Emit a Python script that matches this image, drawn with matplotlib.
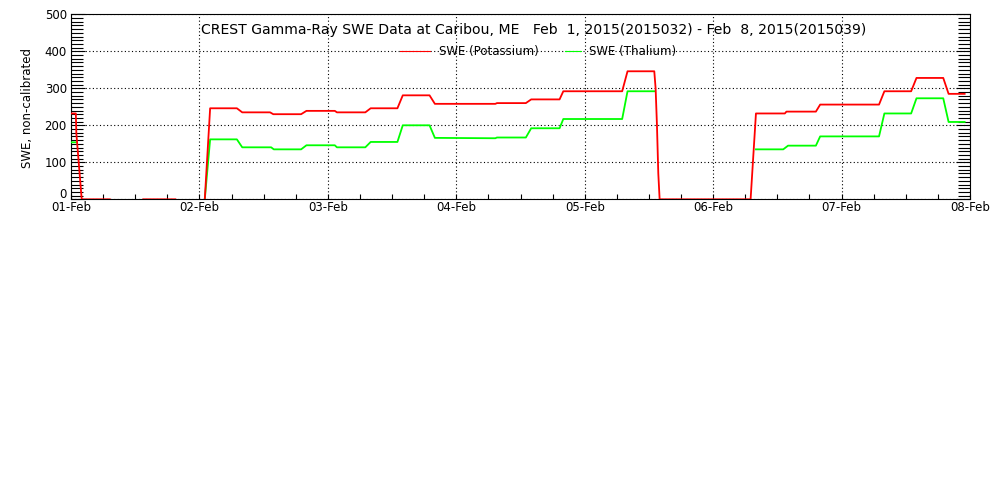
import numpy as np
import matplotlib
matplotlib.use("Agg")
import matplotlib.pyplot as plt
from matplotlib.ticker import MultipleLocator, FixedLocator, FixedFormatter

nan = np.nan

# hours since 2015-02-01 00:00
red_hours = [0, 0.9, 1.0, 2.0, 7.25, 10, 13.5, 19.5, 22, 25, 26, 31, 32, 37.2, 37.8,
             43, 44, 49.3, 49.7, 55, 56, 61, 62, 67, 68, 79.3, 79.6, 85, 86, 91.3,
             92, 103, 104, 109, 109.25, 109.5, 109.75, 110, 127, 128, 133.4, 133.7,
             139.2, 140, 151, 152, 157, 158, 163, 164, 167]
red_values = [232, 232, 178, 0, 0, nan, 0, 0, nan, 0, 246, 246, 235, 235, 230,
              230, 239, 239, 235, 235, 246, 246, 281, 281, 258, 258, 260, 260, 270, 270,
              292, 292, 346, 346, 300, 200, 70, 0, 0, 232, 232, 237,
              237, 256, 256, 292, 292, 328, 328, 285, 285]

green_hours = [0, 0.9, 1.0, 25, 26, 31, 32, 37.4, 37.9, 43, 44, 49.3, 49.7, 55, 56,
               61, 62, 67, 68, 79.3, 79.6, 85, 86, 91.3, 92, 103, 104, 109, 109.5,
               128, 133.1, 134, 139.2, 140, 151, 152, 157, 158, 163, 164, 167]
green_values = [154, 154, nan, 0, 162, 162, 140.5, 140.5, 135, 135, 146, 146, 140.5, 140.5, 155,
                155, 200, 200, 166, 165, 167, 167, 192, 192, 217, 217, 292, 292, nan,
                135, 135, 145, 145, 170, 170, 232, 232, 273, 273, 209, 209]

day_labels = ["01-Feb", "02-Feb", "03-Feb", "04-Feb", "05-Feb", "06-Feb", "07-Feb", "08-Feb"]
y_ticks = [0, 100, 200, 300, 400, 500]
y_tick_labels = ["0", "100", "200", "300", "400", "500"]
title = "CREST Gamma-Ray SWE Data at Caribou, ME   Feb  1, 2015(2015032) - Feb  8, 2015(2015039)"
ylabel = "SWE, non-calibrated"
legend_labels = ["SWE (Potassium)", "SWE (Thalium)"]

plt.rcParams['font.family'] = ['DejaVu Sans']
fig = plt.figure(figsize=(10, 5), dpi=100)
fig.patch.set_facecolor('white')
ax = fig.add_axes([0.071, 1 - 199.3 / 500, 0.899, 185 / 500])

rx = np.array(red_hours) / 24.0
gx = np.array(green_hours) / 24.0
ax.plot(gx, green_values, color=(0, 1, 0), lw=1.3, zorder=3)
ax.plot(rx, red_values, color=(1, 0, 0), lw=1.3, zorder=4)

ax.set_xlim(0, 7)
ax.set_ylim(0, 500)

ax.xaxis.set_major_locator(FixedLocator(range(8)))
ax.set_xticklabels(day_labels)
ax.xaxis.set_minor_locator(MultipleLocator(0.25))
ax.yaxis.set_major_locator(FixedLocator(y_ticks))
# the bottom label sits slightly above its tick, drawn separately below
ax.yaxis.set_major_formatter(FixedFormatter([""] + y_tick_labels[1:]))
ax.yaxis.set_minor_locator(MultipleLocator(10))

ax.tick_params(axis='x', which='both', direction='in', top=False, bottom=True,
               length=3.5, width=0.8, labelsize=8.5, pad=1.5)
ax.tick_params(axis='y', which='major', direction='in', left=True, right=True,
               length=10, width=0.8, labelsize=8.5, pad=3)
ax.tick_params(axis='y', which='minor', direction='in', left=True, right=True,
               length=8.8, width=0.8)

ax.grid(True, which='major', color='black', linestyle=(0, (1, 2.2)), lw=0.8)
for s in ax.spines.values():
    s.set_linewidth(0.8)

ax.text(-4.2 / 899, 1.0 / 185, y_tick_labels[0], transform=ax.transAxes, ha='right',
        va='baseline', fontsize=8.5)

ax.text(0.515, 0.915, title, transform=ax.transAxes, ha='center', va='center', fontsize=10.1)

ly = (199.3 - 51) / 185
def ax_x(px):
    return (px - 71) / 899.0
ax.plot([ax_x(400), ax_x(430)], [ly, ly], color=(1, 0, 0), lw=0.8, transform=ax.transAxes)
ax.text(ax_x(439), ly, legend_labels[0], transform=ax.transAxes, ha='left', va='center', fontsize=8.5)
ax.plot([ax_x(565), ax_x(581)], [ly, ly], color=(0, 1, 0), lw=0.8, transform=ax.transAxes)
ax.text(ax_x(589), ly, legend_labels[1], transform=ax.transAxes, ha='left', va='center', fontsize=8.5)

fig.text(0.028, 1 - 107.5 / 500, ylabel, rotation=90, ha='center', va='center', fontsize=8.5)

fig.savefig("out.png", dpi=100, facecolor='white')
